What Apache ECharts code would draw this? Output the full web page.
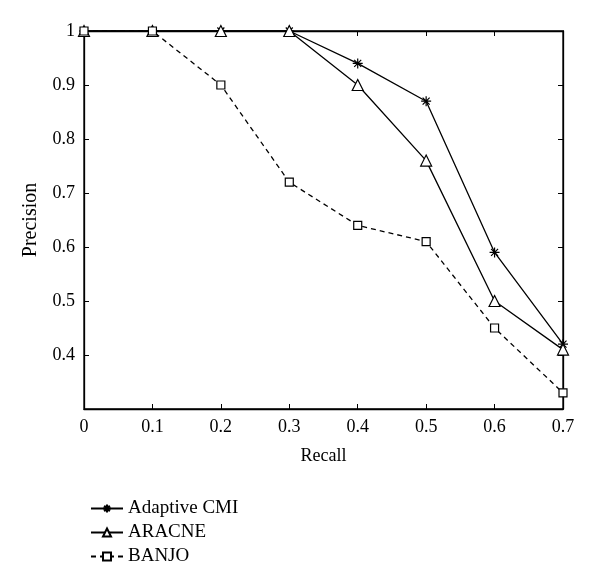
<!DOCTYPE html>
<html>
<head>
<meta charset="utf-8">
<script src="https://cdn.jsdelivr.net/npm/echarts@6/dist/echarts.min.js"></script>
<style>
  html, body { margin: 0; padding: 0; background: #fff; }
  #main { width: 600px; height: 585px; }
</style>
</head>
<body>
<div id="main"></div>
<script>
// recall values on x
var recall = [0, 0.1, 0.2, 0.3, 0.4, 0.5, 0.6, 0.7]
// precision per method
var adaptiveCMI = [1, 1, 1, 1, 0.94, 0.87, 0.59, 0.42]
var aracne = [1, 1, 1, 1, 0.90, 0.76, 0.50, 0.41]
var banjo = [1, 1, 0.90, 0.72, 0.64, 0.61, 0.45, 0.33]
var seriesNames = ['Adaptive CMI', 'ARACNE', 'BANJO']

var serif = '"Liberation Serif", "DejaVu Serif", serif'
var star = 'path://M-5,0L5,0M0,-5L0,5M-3.5,-3.5L3.5,3.5M-3.5,3.5L3.5,-3.5'

function pairs (ys) {
  return recall.map(function (x, i) { return [x, ys[i]] })
}

var chart = echarts.init(document.getElementById('main'))

var tickStyle = { show: true, inside: true, length: 5, lineStyle: { color: '#000', width: 1 } }
var lineAx = { show: true, onZero: false, lineStyle: { color: '#000', width: 1.3 } }

var option = {
  backgroundColor: '#fff',
  animation: false,
  grid: { left: 84, right: 37, top: 31, bottom: 176, show: true, borderColor: '#000', borderWidth: 1.3 },
  legend: {
    orient: 'vertical',
    left: 85,
    top: 494,
    itemWidth: 32,
    itemHeight: 10,
    itemGap: 5,
    data: seriesNames,
    textStyle: { fontFamily: serif, fontSize: 19, color: '#000' }
  },
  xAxis: [
    {
      type: 'value', min: 0, max: 0.7, interval: 0.1,
      name: 'Recall', nameLocation: 'middle', nameGap: 38,
      nameTextStyle: { fontFamily: serif, fontSize: 18, color: '#000' },
      axisLine: lineAx, axisTick: tickStyle, splitLine: { show: false },
      axisLabel: { fontFamily: serif, fontSize: 18, color: '#000', margin: 9 }
    },
    {
      type: 'value', position: 'top', min: 0, max: 0.7, interval: 0.1,
      axisLine: lineAx, axisTick: tickStyle, splitLine: { show: false },
      axisLabel: { show: false }
    }
  ],
  yAxis: [
    {
      type: 'value', min: 0.3, max: 1, interval: 0.1,
      name: 'Precision', nameLocation: 'middle', nameGap: 43,
      nameTextStyle: { fontFamily: serif, fontSize: 20, color: '#000' },
      axisLine: lineAx, axisTick: tickStyle, splitLine: { show: false },
      axisLabel: {
        fontFamily: serif, fontSize: 18, color: '#000', margin: 9,
        formatter: function (v) { return v < 0.35 ? '' : (v > 0.99 ? '1' : v.toFixed(1)) }
      }
    },
    {
      type: 'value', position: 'right', min: 0.3, max: 1, interval: 0.1,
      axisLine: lineAx, axisTick: tickStyle, splitLine: { show: false },
      axisLabel: { show: false }
    }
  ],
  series: [
    {
      name: seriesNames[0], type: 'line', data: pairs(adaptiveCMI),
      symbol: star, symbolSize: 10,
      lineStyle: { color: '#000', width: 1.3 },
      itemStyle: { color: '#000', borderColor: '#000', borderWidth: 1.2 }
    },
    {
      name: seriesNames[1], type: 'line', data: pairs(aracne),
      symbol: 'triangle', symbolSize: 11,
      lineStyle: { color: '#000', width: 1.3 },
      itemStyle: { color: '#fff', borderColor: '#000', borderWidth: 1.2 }
    },
    {
      name: seriesNames[2], type: 'line', data: pairs(banjo),
      symbol: 'rect', symbolSize: 8,
      lineStyle: { color: '#000', width: 1.3, type: [5, 4] },
      itemStyle: { color: '#fff', borderColor: '#000', borderWidth: 1.2 }
    }
  ]
}

chart.setOption(option, true)
</script>
</body>
</html>
